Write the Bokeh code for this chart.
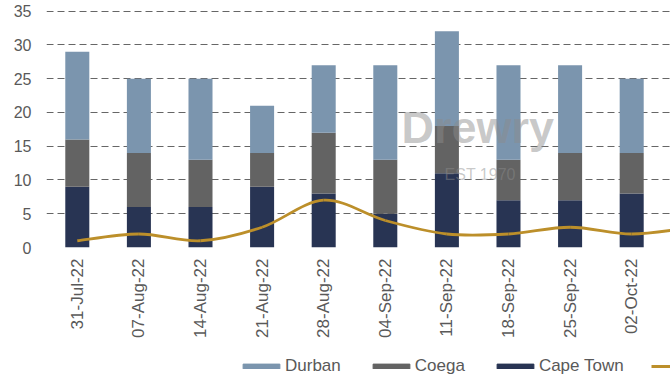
import math
from bokeh.plotting import figure
from bokeh.layouts import column
from bokeh.models import (Range1d, FixedTicker, Legend, LegendItem, Label,
                          ColumnDataSource)
from bokeh.embed import file_html
from bokeh.resources import INLINE

# ---- data ----
weeks = ["31-Jul-22", "07-Aug-22", "14-Aug-22", "21-Aug-22", "28-Aug-22",
         "04-Sep-22", "11-Sep-22", "18-Sep-22", "25-Sep-22", "02-Oct-22"]
cape_town = [9, 6, 6, 9, 8, 5, 11, 7, 7, 8]
coega = [7, 8, 7, 5, 9, 8, 7, 6, 7, 6]
durban = [13, 11, 12, 7, 10, 14, 14, 14, 13, 11]
# line series continues one week past the visible (cropped) area
line_weeks = weeks + ["09-Oct-22"]
line_vals = [1, 2, 1, 3, 7, 4, 2, 2, 3, 2, 3]
y_ticks = [0, 5, 10, 15, 20, 25, 30, 35]
series_names = ["Durban", "Coega", "Cape Town"]

FONT = "Liberation Sans"
TXT = "#595959"
C_DURBAN = "#7B95AE"
C_COEGA = "#636363"
C_CT = "#283453"
C_LINE = "#BC8F2A"

xi = list(range(len(weeks)))
src = ColumnDataSource(dict(x=xi, cape=cape_town, coega=coega, durban=durban))

# Excel-style smoothed line as cubic Bezier segments through the data points
lx = list(range(len(line_vals)))
n = len(lx)
seg = dict(x0=[], y0=[], x1=[], y1=[], cx0=[], cy0=[], cx1=[], cy1=[])
for i in range(n - 1):
    ip = i - 1 if i > 0 else i
    inn = i + 2 if i + 2 < n else i + 1
    seg["x0"].append(lx[i]); seg["y0"].append(line_vals[i])
    seg["x1"].append(lx[i + 1]); seg["y1"].append(line_vals[i + 1])
    seg["cx0"].append(lx[i] + (lx[i + 1] - lx[ip]) / 6)
    seg["cy0"].append(line_vals[i] + (line_vals[i + 1] - line_vals[ip]) / 6)
    seg["cx1"].append(lx[i + 1] - (lx[inn] - lx[i]) / 6)
    seg["cy1"].append(line_vals[i + 1] - (line_vals[inn] - line_vals[i]) / 6)
bsrc = ColumnDataSource(seg)

p = figure(width=670, height=340, output_backend="svg", toolbar_location=None,
           x_range=Range1d(-0.5, 9.63), y_range=Range1d(0, 36.57),
           min_border_left=46, min_border_right=0, min_border_top=0,
           min_border_bottom=90)
p.outline_line_color = None
p.background_fill_color = "white"
p.border_fill_color = "white"

rs = p.vbar_stack(["cape", "coega", "durban"], x="x", width=0.39,
                  color=[C_CT, C_COEGA, C_DURBAN], source=src, line_width=0)
r_line = p.bezier(x0="x0", y0="y0", x1="x1", y1="y1", cx0="cx0", cy0="cy0",
                  cx1="cx1", cy1="cy1", source=bsrc, line_color=C_LINE,
                  line_width=2.8)

# watermark
p.add_layout(Label(x=6.5, y=17.7, text="Drewry", text_font=FONT,
                   text_font_size="45px", text_font_style="bold",
                   text_color="#8c8c8c", text_alpha=0.48, text_align="center",
                   text_baseline="middle"))
p.add_layout(Label(x=6.54, y=10.8, text="EST 1970", text_font=FONT,
                   text_font_size="16px", text_color="#8c8c8c",
                   text_alpha=0.48, text_align="center",
                   text_baseline="middle"))

# axes
p.xgrid.grid_line_color = None
p.ygrid.grid_line_color = "#666666"
p.ygrid.grid_line_dash = "7 4"
p.ygrid.grid_line_width = 1
p.ygrid.ticker = FixedTicker(ticks=y_ticks)

p.yaxis.ticker = FixedTicker(ticks=y_ticks)
p.yaxis.axis_line_color = None
p.yaxis.major_tick_line_color = None
p.yaxis.minor_tick_line_color = None
p.yaxis.major_tick_out = 0
p.yaxis.major_tick_in = 0
p.yaxis.major_label_standoff = 15
p.yaxis.major_label_text_font = FONT
p.yaxis.major_label_text_font_size = "16px"
p.yaxis.major_label_text_color = TXT

p.xaxis.ticker = FixedTicker(ticks=xi)
p.xaxis.major_label_overrides = {i: w for i, w in enumerate(weeks)}
p.xaxis.major_label_orientation = math.pi / 2
p.xaxis.axis_line_color = None
p.xaxis.major_tick_line_color = None
p.xaxis.minor_tick_line_color = None
p.xaxis.major_tick_out = 0
p.xaxis.major_tick_in = 0
p.xaxis.major_label_standoff = 11
p.xaxis.major_label_text_font = FONT
p.xaxis.major_label_text_font_size = "17px"
p.xaxis.major_label_text_color = TXT

# ---- legend strip (separate small figure below the chart) ----
lg = figure(width=670, height=40, output_backend="svg", toolbar_location=None,
            x_range=Range1d(0, 1), y_range=Range1d(0, 1),
            x_axis_location=None, y_axis_location=None,
            min_border_left=0, min_border_right=0, min_border_top=0,
            min_border_bottom=0)
lg.grid.visible = False
lg.outline_line_color = None
lg.background_fill_color = "white"
lg.border_fill_color = "white"
# legend samples: one row each, lying outside the strip's visible range
sample = ColumnDataSource(dict(x=[-5], y=[-5]))
sw_d = lg.vbar(x="x", top="y", width=0.1, color=C_DURBAN, source=sample)
sw_c = lg.vbar(x="x", top="y", width=0.1, color=C_COEGA, source=sample)
sw_t = lg.vbar(x="x", top="y", width=0.1, color=C_CT, source=sample)
sw_l = lg.line(x="x", y="y", line_color=C_LINE, line_width=2.8, source=sample)

legend = Legend(items=[
    LegendItem(label=series_names[0], renderers=[sw_d]),
    LegendItem(label=series_names[1], renderers=[sw_c]),
    LegendItem(label=series_names[2], renderers=[sw_t]),
    LegendItem(label="", renderers=[sw_l]),
], orientation="horizontal", location=(192, 4), padding=0, margin=0,
    spacing=27, glyph_width=46, glyph_height=6, label_standoff=1,
    label_height=20, label_text_font=FONT, label_text_font_size="17px",
    label_text_color=TXT, border_line_alpha=0, background_fill_alpha=0)
lg.add_layout(legend)

layout = column(p, lg, spacing=0)
open("out.html", "w").write(file_html(layout, INLINE))
